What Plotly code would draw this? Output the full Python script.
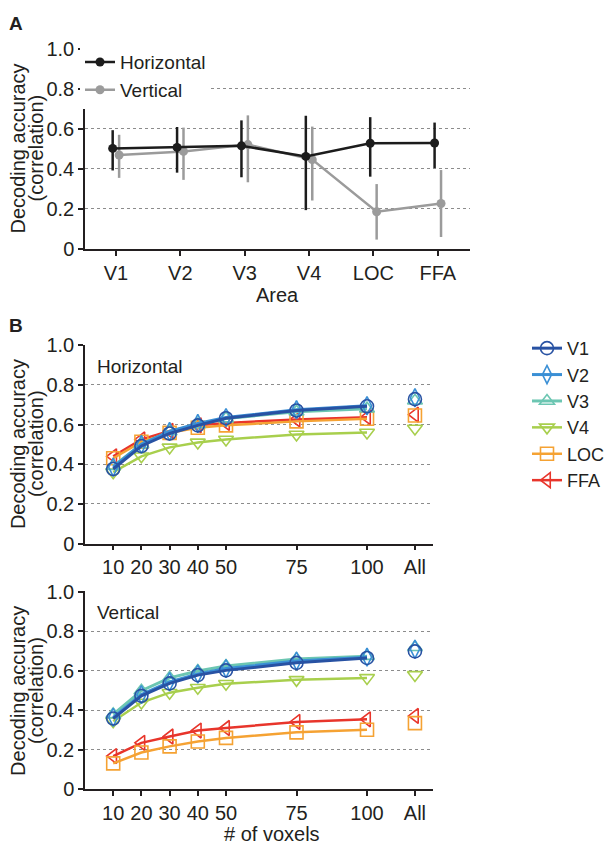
import numpy as np
import plotly.graph_objects as go

# ---------------- Panel A data ----------------
areas = ["V1", "V2", "V3", "V4", "LOC", "FFA"]
horiz_mean = [0.502, 0.507, 0.515, 0.462, 0.528, 0.529]
horiz_upper = [0.593, 0.609, 0.642, 0.665, 0.658, 0.631]
horiz_lower = [0.392, 0.381, 0.358, 0.194, 0.361, 0.404]
vert_mean = [0.469, 0.487, 0.521, 0.446, 0.186, 0.227]
vert_upper = [0.570, 0.606, 0.667, 0.611, 0.324, 0.394]
vert_lower = [0.355, 0.345, 0.333, 0.242, 0.047, 0.060]

# ---------------- Panel B data ----------------
voxels = [10, 20, 30, 40, 50, 75, 100]
voxel_labels = ["10", "20", "30", "40", "50", "75", "100", "All"]
series_names = ["V1", "V2", "V3", "V4", "LOC", "FFA"]
# last value of each list = "All" voxels
h_v1 = [0.376, 0.492, 0.555, 0.596, 0.632, 0.671, 0.692, 0.728]
h_v2 = [0.385, 0.500, 0.565, 0.605, 0.635, 0.675, 0.695, 0.735]
h_v3 = [0.390, 0.500, 0.565, 0.600, 0.630, 0.665, 0.680, 0.720]
h_v4 = [0.360, 0.440, 0.485, 0.510, 0.525, 0.550, 0.560, 0.580]
h_loc = [0.430, 0.513, 0.558, 0.584, 0.596, 0.616, 0.629, 0.646]
h_ffa = [0.440, 0.525, 0.568, 0.596, 0.608, 0.626, 0.637, 0.650]
v_v1 = [0.359, 0.474, 0.537, 0.579, 0.603, 0.641, 0.666, 0.699]
v_v2 = [0.365, 0.480, 0.545, 0.585, 0.612, 0.650, 0.670, 0.710]
v_v3 = [0.380, 0.500, 0.565, 0.600, 0.625, 0.660, 0.675, 0.720]
v_v4 = [0.345, 0.440, 0.490, 0.515, 0.535, 0.555, 0.565, 0.580]
v_loc = [0.132, 0.187, 0.218, 0.243, 0.261, 0.289, 0.302, 0.336]
v_ffa = [0.169, 0.236, 0.268, 0.298, 0.311, 0.342, 0.355, 0.372]

y_tickvals = [0, 0.2, 0.4, 0.6, 0.8, 1.0]
y_ticktext = ["0", "0.2", "0.4", "0.6", "0.8", "1.0"]

# ---------------- styles ----------------
W, H = 614, 857
FONT = "Liberation Sans, Arial, sans-serif"
TXT = "#231f20"
ALL_POS = 117
colors = {"V1": "#2852a3", "V2": "#3a8fd5", "V3": "#6cc6b2",
          "V4": "#a8cf4d", "LOC": "#f5a233", "FFA": "#e8352b"}
symbols = {"V1": "circle-open", "V2": "diamond-tall-open", "V3": "triangle-up-open",
           "V4": "triangle-down-open", "LOC": "square-open", "FFA": "triangle-left-open"}
lwidths = {"V1": 3, "V2": 3, "V3": 3, "V4": 2.5, "LOC": 2.5, "FFA": 2.5}

def px_x(p):
    return p / W

def px_y(p):
    return 1 - p / H

fig = go.Figure()

# ---------------- Panel A ----------------
idx = np.arange(len(areas))
hm, hu, hl = map(np.array, (horiz_mean, horiz_upper, horiz_lower))
vm, vu, vl = map(np.array, (vert_mean, vert_upper, vert_lower))

fig.add_trace(go.Scatter(
    x=idx + 0.05, y=vm, mode="lines+markers", name="Vertical",
    line=dict(color="#9b9b9b", width=2.5),
    marker=dict(color="#9b9b9b", size=9),
    error_y=dict(type="data", symmetric=False, array=vu - vm, arrayminus=vm - vl,
                 color="#9b9b9b", thickness=2.5, width=0),
    legendrank=2, xaxis="x", yaxis="y", legend="legend"))
fig.add_trace(go.Scatter(
    x=idx - 0.05, y=hm, mode="lines+markers", name="Horizontal",
    line=dict(color="#1c1c1c", width=2.5),
    marker=dict(color="#1c1c1c", size=9),
    error_y=dict(type="data", symmetric=False, array=hu - hm, arrayminus=hm - hl,
                 color="#1c1c1c", thickness=2.5, width=0),
    legendrank=1, xaxis="x", yaxis="y", legend="legend"))

# ---------------- Panel B ----------------
h_data = dict(zip(series_names, [h_v1, h_v2, h_v3, h_v4, h_loc, h_ffa]))
v_data = dict(zip(series_names, [v_v1, v_v2, v_v3, v_v4, v_loc, v_ffa]))
xs = voxels + [None, ALL_POS]

for panel, data, xa, ya in (("h", h_data, "x2", "y2"), ("v", v_data, "x3", "y3")):
    for name in reversed(series_names):
        vals = data[name]
        ys = vals[:-1] + [None, vals[-1]]
        fig.add_trace(go.Scatter(
            x=xs, y=ys, mode="lines+markers", name=name,
            connectgaps=False,
            line=dict(color=colors[name], width=lwidths[name]),
            marker=dict(symbol=symbols[name], size=13, color=colors[name],
                        line=dict(width=1.6, color=colors[name])),
            showlegend=(panel == "h"),
            legendrank=series_names.index(name) + 1,
            xaxis=xa, yaxis=ya, legend="legend2"))

axis_common = dict(showline=True, linecolor="#231f20", linewidth=1.5,
                   ticks="outside", ticklen=5, tickwidth=1.5, tickcolor="#231f20",
                   zeroline=False, tickfont=dict(size=20, color=TXT, family=FONT))
grid = dict(showgrid=True, gridcolor="#8c8c8c", gridwidth=1, griddash="dot")

xd_A = [px_x(85), px_x(470)]
xd_B = [px_x(85), px_x(433)]

fig.update_layout(
    width=W, height=H,
    margin=dict(l=0, r=0, t=0, b=0),
    paper_bgcolor="white", plot_bgcolor="white",
    font=dict(family=FONT, color=TXT, size=18),
    xaxis=dict(domain=xd_A, anchor="y", range=[-0.48, 5.5],
               tickvals=idx, ticktext=areas, showgrid=False, **axis_common),
    yaxis=dict(domain=[px_y(245), px_y(39)], anchor="x", range=[0, 1.003],
               tickvals=y_tickvals, ticktext=y_ticktext, **grid, **axis_common),
    xaxis2=dict(domain=xd_B, anchor="y2", range=[0, 123.4],
                tickvals=voxels + [ALL_POS], ticktext=voxel_labels, showgrid=False, **axis_common),
    yaxis2=dict(domain=[px_y(547), px_y(343)], anchor="x2", range=[0, 1.003],
                tickvals=y_tickvals, ticktext=y_ticktext, **grid, **axis_common),
    xaxis3=dict(domain=xd_B, anchor="y3", range=[0, 123.4],
                tickvals=voxels + [ALL_POS], ticktext=voxel_labels, showgrid=False, **axis_common),
    yaxis3=dict(domain=[px_y(799), px_y(596)], anchor="x3", range=[0, 1.003],
                tickvals=y_tickvals, ticktext=y_ticktext, **grid, **axis_common),
    legend=dict(x=px_x(80), y=px_y(34), xanchor="left", yanchor="top",
                bgcolor="white", font=dict(size=19, color=TXT, family=FONT),
                traceorder="normal", borderwidth=0),
    legend2=dict(x=px_x(527), y=px_y(328), xanchor="left", yanchor="top",
                 bgcolor="rgba(0,0,0,0)", font=dict(size=18, color=TXT, family=FONT),
                 traceorder="normal", borderwidth=0),
    showlegend=True,
)

ann = []
def add_text(text, x, y, size=20, bold=False, angle=0, xanchor="center"):
    ann.append(dict(text=f"<b>{text}</b>" if bold else text, x=px_x(x), y=px_y(y),
                    xref="paper", yref="paper", showarrow=False, textangle=angle,
                    xanchor=xanchor, yanchor="middle",
                    font=dict(size=size, color=TXT, family=FONT)))

add_text("A", 16, 14, size=19, bold=True)
add_text("B", 16, 323, size=19, bold=True)
for yc in (142, 445, 698):
    add_text("Decoding accuracy", 18, yc, angle=-90)
    add_text("(correlation)", 36, yc, angle=-90)
add_text("Area", 277, 292)
add_text("# of voxels", 272, 845)
add_text("Horizontal", 95, 365, size=19, xanchor="left")
add_text("Vertical", 95, 618, size=19, xanchor="left")
fig.update_layout(annotations=ann)

fig.write_html("out.html", config={"displayModeBar": False},
               post_script="document.body.style.margin='0';document.body.style.padding='0';")
